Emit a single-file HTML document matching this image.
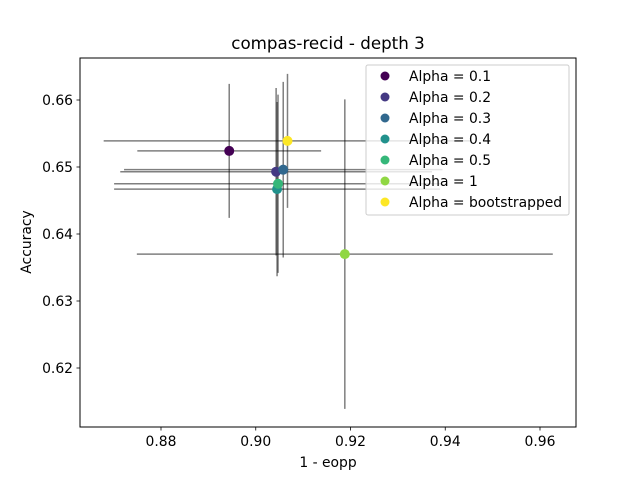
<!DOCTYPE html>
<html><head><meta charset="utf-8"><style>
body{margin:0;background:#fff}
svg{font-family:"DejaVu Sans","Liberation Sans",sans-serif}
</style></head><body>
<svg width="640" height="480" viewBox="0 0 640 480">
<rect width="640" height="480" fill="#fff"/>
<g id="plot"></g>
</svg>
<script>
const labels=["Alpha = 0.1","Alpha = 0.2","Alpha = 0.3","Alpha = 0.4","Alpha = 0.5","Alpha = 1","Alpha = bootstrapped"];
const xs=[0.8944,0.9043,0.9058,0.9045,0.9047,0.9188,0.9067];
const ys=[0.6524,0.6493,0.6496,0.6467,0.6475,0.6370,0.6539];
const xerr=[0.0194,0.0329,0.0336,0.0344,0.0346,0.0439,0.0388];
const yerr=[0.0100,0.0125,0.0131,0.0130,0.0133,0.0231,0.0100];
const colors=["#440154","#443983","#31688e","#21918c","#35b779","#90d743","#fde725"];
const xticks=[0.88,0.90,0.92,0.94,0.96];
const yticks=[0.62,0.63,0.64,0.65,0.66];
const L=80,R=576,T=58,B=427;
const X=v=>161+(v-0.88)*4737.5;
const Y=v=>167-(v-0.65)*6700;
const NS="http://www.w3.org/2000/svg";
const g=document.getElementById('plot');
function mk(t,a,p){const e=document.createElementNS(NS,t);for(const k in a)e.setAttribute(k,a[k]);(p||g).appendChild(e);return e;}
for(let i=0;i<xs.length;i++){
 const eb=mk('g',{});
 
 
 mk('line',{x1:X(xs[i]-xerr[i]),x2:X(xs[i]+xerr[i]),y1:Y(ys[i]),y2:Y(ys[i]),stroke:'#000','stroke-opacity':0.5,'stroke-width':1.5},eb);
 mk('line',{x1:X(xs[i]),x2:X(xs[i]),y1:Y(ys[i]-yerr[i]),y2:Y(ys[i]+yerr[i]),stroke:'#000','stroke-opacity':0.5,'stroke-width':1.5},eb);
}
for(let i=0;i<xs.length;i++){
 const c=mk('circle',{cx:X(xs[i]),cy:Y(ys[i]),r:5,fill:colors[i]});
 
 
}
const fr=mk('rect',{x:L,y:T,width:R-L,height:B-T,fill:'none',stroke:'#000','stroke-width':1});


xticks.forEach(v=>{
 mk('line',{x1:X(v),x2:X(v),y1:B,y2:B+3.5,stroke:'#000','stroke-width':0.8});
 const t=mk('text',{x:X(v),y:B+19,'text-anchor':'middle','font-size':13.9,fill:'#000'});
 t.textContent=v.toFixed(2);
 
 
});
yticks.forEach(v=>{
 mk('line',{x1:L-3.5,x2:L,y1:Y(v),y2:Y(v),stroke:'#000','stroke-width':0.8});
 const t=mk('text',{x:L-7,y:Y(v)+5,'text-anchor':'end','font-size':13.9,fill:'#000'});
 t.textContent=v.toFixed(2);
 
 
});
let t=mk('text',{x:328,y:49,'text-anchor':'middle','font-size':16.7});t.textContent='compas-recid - depth 3';


t=mk('text',{x:328,y:467,'text-anchor':'middle','font-size':13.9});t.textContent='1 - eopp';


t=mk('text',{x:31,y:242,'text-anchor':'middle','font-size':13.9,transform:'rotate(-90 31 242)'});t.textContent='Accuracy';


const lg=mk('g',{});


mk('rect',{x:366,y:65,width:203,height:150,rx:2,fill:'#fff','fill-opacity':0.8,stroke:'#ccc','stroke-width':1},lg);
labels.forEach((s,i)=>{
 const y=76+i*21;
 const e=mk('g',{},lg);
 
 
 mk('circle',{cx:385,cy:y,r:4.5,fill:colors[i]},e);
 const tx=mk('text',{x:409,y:y+5,'font-size':13.9},e);tx.textContent=s;
});
</script>
</body></html>
